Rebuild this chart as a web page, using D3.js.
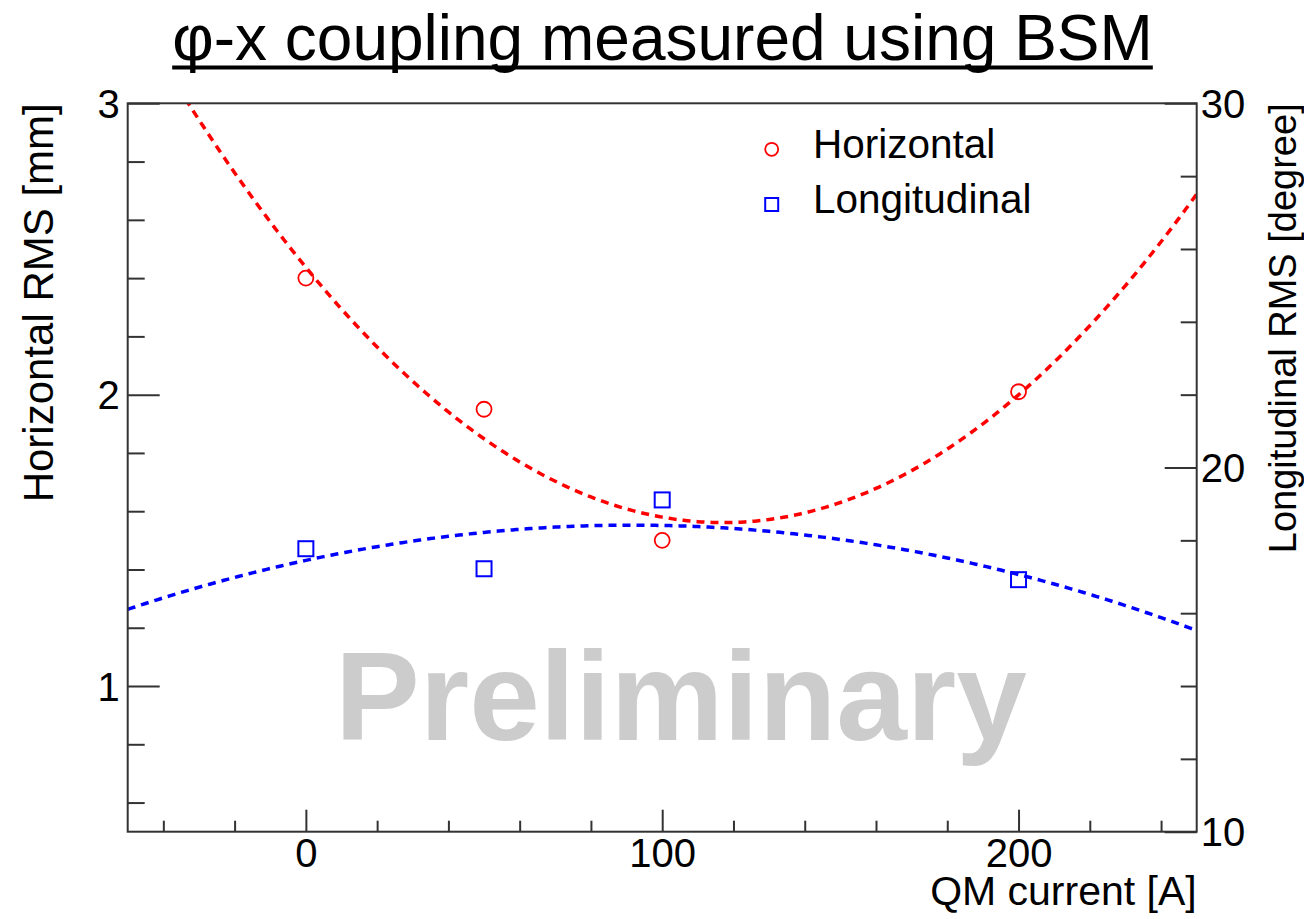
<!DOCTYPE html>
<html>
<head>
<meta charset="utf-8">
<script src="https://cdn.jsdelivr.net/npm/d3@7"></script>
<style>
  html, body { margin: 0; padding: 0; background: #fff; }
  svg { display: block; font-family: "Liberation Sans", Arial, Helvetica, sans-serif; }
</style>
</head>
<body>
<svg id="chart" width="1304" height="919"></svg>
<script>
// QM current settings [A]
const currents = [0, 50, 100, 200];
// Horizontal beam size RMS [mm] (left axis)
const horizontalRMS = [2.40, 1.95, 1.50, 2.01];
// Longitudinal RMS [degree] (right axis)
const longitudinalRMS = [17.77, 17.22, 19.11, 16.92];
// Second-order polynomial fit coefficients (p0, p1, p2)
const horizontalFit = [2.437, -0.01496, 6.386e-5];
const longitudinalFit = [17.45, 0.02112, -1.153e-4];

// Axis ranges and tick values
const xDomain = [-50, 250];
const yLeftDomain = [0.5, 3];
const yRightDomain = [10, 30];
const xMajorTicks = [0, 100, 200];
const xMinorTicks = [-40, -20, 20, 40, 60, 80, 120, 140, 160, 180, 220, 240];
const yLeftMajorTicks = [1, 2, 3];
const yLeftMinorTicks = [0.6, 0.8, 1.2, 1.4, 1.6, 1.8, 2.2, 2.4, 2.6, 2.8];
const yRightMajorTicks = [10, 20, 30];
const yRightMinorTicks = [12, 14, 16, 18, 22, 24, 26, 28];

const legendItems = ["Horizontal", "Longitudinal"];
const titleText = "φ-x coupling measured using BSM";

const svg = d3.select("#chart");
const frame = { left: 127.7, right: 1196.7, top: 103.3, bottom: 831.7 };

const x = d3.scaleLinear().domain(xDomain).range([frame.left, frame.right]);
const yL = d3.scaleLinear().domain(yLeftDomain).range([frame.bottom, frame.top]);
const yR = d3.scaleLinear().domain(yRightDomain).range([frame.bottom, frame.top]);

const axisColor = "#333";

// Title with underline
const title = svg.append("text")
  .attr("x", 662.5).attr("y", 60)
  .attr("text-anchor", "middle")
  .attr("font-size", 64)
  .attr("fill", "#000")
  .text(titleText);
const tLen = title.node().getComputedTextLength();
svg.append("line")
  .attr("x1", 662.5 - tLen / 2).attr("x2", 662.5 + tLen / 2)
  .attr("y1", 67.5).attr("y2", 67.5)
  .attr("stroke", "#000").attr("stroke-width", 4);

// Watermark
svg.append("text")
  .attr("x", 681).attr("y", 740)
  .attr("text-anchor", "middle")
  .attr("font-size", 127)
  .attr("font-weight", "bold")
  .attr("fill", "#cccccc")
  .text("Preliminary");

// Clip region for fit curves
svg.append("defs").append("clipPath").attr("id", "plotClip")
  .append("rect")
  .attr("x", frame.left).attr("y", frame.top)
  .attr("width", frame.right - frame.left).attr("height", frame.bottom - frame.top);

const poly = c => v => c[0] + c[1] * v + c[2] * v * v;
const fitXs = d3.range(xDomain[0], xDomain[1] + 0.5, 1);

const plot = svg.append("g").attr("clip-path", "url(#plotClip)");

plot.append("path")
  .datum(fitXs)
  .attr("fill", "none")
  .attr("stroke", "#ff0000")
  .attr("stroke-width", 3.5)
  .attr("stroke-dasharray", "8,6")
  .attr("d", d3.line().x(d => x(d)).y(d => yL(poly(horizontalFit)(d))));

plot.append("path")
  .datum(fitXs)
  .attr("fill", "none")
  .attr("stroke", "#0000ff")
  .attr("stroke-width", 3.5)
  .attr("stroke-dasharray", "8,6")
  .attr("d", d3.line().x(d => x(d)).y(d => yR(poly(longitudinalFit)(d))));

// Data markers
const hData = currents.map((c, i) => ({ c, v: horizontalRMS[i] }));
const lData = currents.map((c, i) => ({ c, v: longitudinalRMS[i] }));

svg.append("g").selectAll("circle").data(hData).join("circle")
  .attr("cx", d => x(d.c)).attr("cy", d => yL(d.v))
  .attr("r", 7.5)
  .attr("fill", "none").attr("stroke", "#ff0000").attr("stroke-width", 1.8);

const sq = 15;
svg.append("g").selectAll("rect").data(lData).join("rect")
  .attr("x", d => x(d.c) - sq / 2).attr("y", d => yR(d.v) - sq / 2)
  .attr("width", sq).attr("height", sq)
  .attr("fill", "none").attr("stroke", "#0000ff").attr("stroke-width", 2);

// Frame
svg.append("rect")
  .attr("x", frame.left).attr("y", frame.top)
  .attr("width", frame.right - frame.left).attr("height", frame.bottom - frame.top)
  .attr("fill", "none").attr("stroke", axisColor).attr("stroke-width", 2);

// Bottom axis
const xAxisMajor = d3.axisBottom(x).tickValues(xMajorTicks).tickSizeInner(-22).tickSizeOuter(0).tickFormat(d3.format("d"));
const gx = svg.append("g").attr("transform", `translate(0,${frame.bottom})`).call(xAxisMajor);
gx.select(".domain").remove();
gx.selectAll(".tick line").attr("stroke", axisColor).attr("stroke-width", 2);
gx.selectAll(".tick text").attr("font-size", 40).attr("fill", "#000")
  .attr("y", 0).attr("dy", 35).attr("font-family", null);
const xAxisMinor = d3.axisBottom(x).tickValues(xMinorTicks).tickSizeInner(-11).tickSizeOuter(0).tickFormat("");
const gxm = svg.append("g").attr("transform", `translate(0,${frame.bottom})`).call(xAxisMinor);
gxm.select(".domain").remove();
gxm.selectAll(".tick line").attr("stroke", axisColor).attr("stroke-width", 2);

// Left axis
const yAxisMajor = d3.axisLeft(yL).tickValues(yLeftMajorTicks).tickSizeInner(-32).tickSizeOuter(0).tickFormat(d3.format("d"));
const gy = svg.append("g").attr("transform", `translate(${frame.left},0)`).call(yAxisMajor);
gy.select(".domain").remove();
gy.selectAll(".tick line").attr("stroke", axisColor).attr("stroke-width", 2);
gy.selectAll(".tick text").attr("font-size", 40).attr("fill", "#000")
  .attr("x", -8).attr("dy", "0.35em").attr("font-family", null);
const yAxisMinor = d3.axisLeft(yL).tickValues(yLeftMinorTicks).tickSizeInner(-17).tickSizeOuter(0).tickFormat("");
const gym = svg.append("g").attr("transform", `translate(${frame.left},0)`).call(yAxisMinor);
gym.select(".domain").remove();
gym.selectAll(".tick line").attr("stroke", axisColor).attr("stroke-width", 2);

// Right axis
const yRAxisMajor = d3.axisRight(yR).tickValues(yRightMajorTicks).tickSizeInner(-32).tickSizeOuter(0).tickFormat(d3.format("d"));
const gr = svg.append("g").attr("transform", `translate(${frame.right},0)`).call(yRAxisMajor);
gr.select(".domain").remove();
gr.selectAll(".tick line").attr("stroke", axisColor).attr("stroke-width", 2);
gr.selectAll(".tick text").attr("font-size", 40).attr("fill", "#000")
  .attr("x", 4).attr("dy", "0.35em").attr("font-family", null);
const yRAxisMinor = d3.axisRight(yR).tickValues(yRightMinorTicks).tickSizeInner(-16).tickSizeOuter(0).tickFormat("");
const grm = svg.append("g").attr("transform", `translate(${frame.right},0)`).call(yRAxisMinor);
grm.select(".domain").remove();
grm.selectAll(".tick line").attr("stroke", axisColor).attr("stroke-width", 2);

// Axis titles
svg.append("text")
  .attr("transform", `translate(53,${frame.top}) rotate(-90)`)
  .attr("text-anchor", "end")
  .attr("font-size", 42)
  .attr("fill", "#000")
  .text("Horizontal RMS [mm]");

svg.append("text")
  .attr("transform", `translate(1296,${frame.top}) rotate(-90)`)
  .attr("text-anchor", "end")
  .attr("font-size", 38)
  .attr("fill", "#000")
  .text("Longitudinal RMS [degree]");

svg.append("text")
  .attr("x", frame.right).attr("y", 905)
  .attr("text-anchor", "end")
  .attr("font-size", 41)
  .attr("fill", "#000")
  .text("QM current [A]");

// Legend
const legend = svg.append("g");
const legendY = [149.3, 204.5];
legend.append("circle")
  .attr("cx", 771.7).attr("cy", legendY[0]).attr("r", 6.5)
  .attr("fill", "none").attr("stroke", "#ff0000").attr("stroke-width", 1.8);
legend.append("rect")
  .attr("x", 771.7 - 6.5).attr("y", legendY[1] - 6.5).attr("width", 13).attr("height", 13)
  .attr("fill", "none").attr("stroke", "#0000ff").attr("stroke-width", 2);
legend.selectAll("text.leg").data(legendItems).join("text")
  .attr("class", "leg")
  .attr("x", 813).attr("y", (d, i) => legendY[i] + 8.5)
  .attr("font-size", 40.5)
  .attr("fill", "#000")
  .text(d => d);
</script>
</body>
</html>
